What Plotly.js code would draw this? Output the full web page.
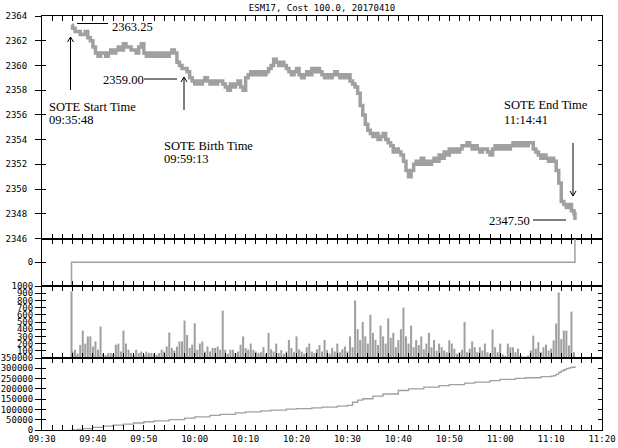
<!DOCTYPE html>
<html><head><meta charset="utf-8">
<script src="https://cdn.plot.ly/plotly-3.0.1.min.js"></script>
<style>html,body{margin:0;padding:0;background:#fff}#chart{width:618px;height:448px}</style>
</head><body><div id="chart"></div>
<script>
const DAY = '2017-04-10 ';
const chartTitle = 'ESM17, Cost 100.0, 20170410';
const soteStart = '09:35:48', soteBirth = '09:59:13', soteEnd = '11:14:41';
const startPrice = '2363.25', birthPrice = '2359.00', endPrice = '2347.50';

// price samples: SOTE start, then a 30-second grid 09:36:00 .. 11:14:30, then SOTE end
const price = [2363.25,
2363.00,2362.75, 2362.75,2362.50, 2362.50,2362.75, 2362.25,2362.00,
2361.50,2361.00, 2360.75,2361.00, 2361.00,2360.75, 2361.00,2361.25, 2361.00,2361.25,
2361.50,2361.25, 2361.75,2361.50, 2361.50,2361.25, 2361.25,2361.00, 2361.50,2361.75,
2361.00,2360.75, 2361.00,2360.75, 2361.00,2360.75, 2361.00,2360.75, 2361.00,2360.75,
2361.00,2361.25, 2361.00,2360.25, 2360.00,2359.75, 2359.75,2359.50, 2359.00,2358.75,
2358.50,2358.75, 2358.50,2358.75, 2359.00,2358.75, 2358.50,2358.75, 2358.50,2358.75,
2358.75,2358.50, 2358.25,2358.00, 2358.50,2358.25, 2358.50,2358.75, 2358.25,2358.00,
2359.00,2359.25, 2359.50,2359.25, 2359.50,2359.25, 2359.50,2359.25, 2359.50,2359.75,
2360.00,2360.50, 2360.25,2360.00, 2360.25,2360.00, 2359.75,2359.50, 2359.25,2359.50,
2359.75,2359.25, 2359.00,2359.25, 2359.50,2359.25, 2359.75,2359.50, 2359.75,2359.50,
2359.25,2359.00, 2359.25,2359.00, 2359.25,2359.50, 2359.25,2359.00, 2359.25,2359.00,
2359.25,2358.75, 2358.50,2358.25, 2357.75,2356.75, 2356.00,2355.25, 2354.75,2354.50,
2354.25,2354.50, 2354.00,2354.25, 2354.50,2354.00, 2353.75,2353.50, 2353.00,2353.25,
2353.00,2352.75, 2352.25,2351.50, 2351.00,2351.50, 2352.00,2352.25, 2352.00,2352.50,
2352.00,2352.25, 2352.00,2352.25, 2352.50,2352.25, 2352.75,2352.50, 2353.00,2352.75,
2353.25,2353.00, 2353.25,2353.00, 2353.25,2353.50, 2353.50,2353.75, 2353.50,2353.25,
2353.50,2353.25, 2353.00,2353.25, 2353.25,2353.00, 2352.75,2353.25, 2353.50,2353.25,
2353.50,2353.25, 2353.50,2353.25, 2353.50,2353.75, 2353.50,2353.75, 2353.50,2353.75,
2353.50,2353.75, 2353.75,2353.25, 2353.00,2352.75, 2352.50,2352.75, 2352.50,2352.25,
2352.50,2352.25, 2351.50,2350.50, 2349.00,2348.75, 2348.50,2348.75, 2348.25,2348.00,
2347.50];

// volume bars: SOTE start, then 30-second grid 09:36:00 .. 11:14:30
const volume = [924,
90,115,60,180,380,200,300,300,160,230,
115,437,60,40,70,70,60,185,200,90,
380,200,115,70,45,115,70,90,45,90,
70,70,60,45,70,115,90,160,354,140,
105,160,230,230,520,320,140,185,483,115,
200,230,90,160,90,140,140,160,115,657,
115,60,115,115,70,90,185,300,140,115,
200,115,90,70,
80,150,60,350,120,90,200,70,110,60,90,250,140,80,300,120,90,
60,150,200,90,70,120,180,90,250,110,60,140,90,200,80,120,160,90,300,150,
800,400,250,500,300,200,600,350,250,180,450,300,200,550,280,350,150,250,400,700,
300,200,450,150,250,180,300,120,200,350,150,250,100,200,
150,105,80,245,200,130,60,80,115,500,
80,130,230,150,80,150,105,200,80,60,
395,150,80,200,50,30,200,150,150,80,
130,35,20,20,35,105,310,130,220,80,
150,185,105,130,245,480,910,265,380,380,
175,645,80];

const cumTime = ['09:35:48','09:37:00','09:38:00','09:40:00','09:42:00','09:44:00','09:46:00','09:48:00','09:50:00','09:52:00','09:55:00','09:58:00',
 '10:00:00','10:03:00','10:05:00','10:08:00','10:10:00','10:13:00','10:15:00','10:18:00','10:20:00','10:23:00','10:25:00','10:28:00','10:30:00',
 '10:31:00','10:32:00','10:33:00','10:35:00','10:37:00','10:40:00','10:42:00','10:45:00','10:48:00','10:50:00','10:53:00','10:55:00','10:58:00',
 '11:00:00','11:03:00','11:05:00','11:08:00','11:10:00','11:10:30','11:11:00','11:11:30','11:12:00','11:12:30','11:13:00','11:13:30','11:14:00','11:14:41'];
const cumVolume = [0,3000,7000,13000,19000,24000,29000,34000,40000,44000,50000,58000,
 64000,71000,76000,83000,88000,93000,97000,101000,104000,108000,111000,116000,120000,
 135000,145000,152000,165000,175000,192000,200000,208000,216000,221000,228000,233000,240000,
 246000,251000,254000,259000,262000,264000,270000,280000,287000,293000,298000,302000,305000,310000];

const posTime = [soteStart, soteStart, soteEnd, soteEnd];
const posState = [-1, 0, 0, 1];

const xTickFirst = '09:30:00', xTickLast = '11:20:00';
const priceTicks = [2346,2348,2350,2352,2354,2356,2358,2360,2362,2364];
const volTicks = [100,200,300,400,500,600,700,800,900,1000];
const cumTicks = [0,50000,100000,150000,200000,250000,300000,350000];

// ---- the 30-second sample grid ----
function gridTimes() {
  const out = [soteStart];
  let t = 9*3600 + 36*60;
  const end = 11*3600 + 14*60 + 30;
  const pad = n => String(n).padStart(2,'0');
  for (; t <= end; t += 30) out.push(pad(Math.floor(t/3600))+':'+pad(Math.floor(t/60)%60)+':'+pad(t%60));
  return out;
}
const grid = gridTimes();
const priceTime = grid.concat([soteEnd]);
const volTime = grid;
const D = a => a.map(s => DAY + s);

// ---- layout geometry (pixels) ----
const W=618, H=448, PL=42, PR=602, PT=16, PB=430;
const px = x => (x-PL)/(PR-PL);
const py = y => (PB-y)/(PB-PT);
const GRAY = '#a0a0a0';
const MONO = {family:'DejaVu Sans Mono', size:9, color:'#000'};
const SERIF = {family:'Liberation Serif', size:12.5, color:'#000'};

const xBase = {
  type:'date', range:[DAY+xTickFirst, DAY+xTickLast], showline:true, linecolor:'#000', linewidth:1,
  mirror:'allticks', ticks:'inside', ticklen:5, tickcolor:'#000', tickwidth:1,
  tick0:DAY+xTickFirst, dtick:600000, tickformat:'%H:%M', tickfont:MONO,
  minor:{dtick:120000, ticks:'inside', ticklen:3, tickcolor:'#000', tickwidth:1, showgrid:false},
  showgrid:false, zeroline:false, fixedrange:true
};
function xa(anchor, labels, extra) { return Object.assign({}, xBase, {anchor:anchor, showticklabels:labels}, extra||{}); }
function ya(dom, range, tickvals, standoff) {
  return {domain:dom, range:range, tickmode:'array', tickvals:tickvals, ticktext:tickvals.map(String),
    showline:true, linecolor:'#000', linewidth:1, mirror:true, ticks:'outside', ticklen:6, tickcolor:'#000',
    tickfont:MONO, ticklabelstandoff:standoff, showgrid:false, zeroline:false, fixedrange:true};
}
function yIn(over, anchor, range, tickvals) {
  return {overlaying:over, anchor:anchor, side:'left', range:range, tickmode:'array', tickvals:tickvals,
    showticklabels:false, showline:true, linecolor:'#000', linewidth:1, mirror:'ticks', ticks:'inside', ticklen:4,
    tickcolor:'#000', showgrid:false, zeroline:false, fixedrange:true};
}

const d1=[py(238.5),1], d2=[py(286),py(238.5)], d3=[py(358),py(286)], d4=[0,py(358)];

const traces = [
  {type:'scatter', mode:'lines', x:D(priceTime), y:price, xaxis:'x', yaxis:'y',
   line:{color:GRAY, width:3.5, shape:'hv'}, hoverinfo:'skip'},
  {type:'scatter', mode:'lines', x:D(posTime), y:posState, xaxis:'x2', yaxis:'y2',
   line:{color:GRAY, width:1.5}, hoverinfo:'skip'},
  {type:'bar', x:D(volTime), y:volume, xaxis:'x3', yaxis:'y3', width:24000,
   marker:{color:GRAY, line:{width:0}}, hoverinfo:'skip'},
  {type:'scatter', mode:'lines', x:D(cumTime), y:cumVolume, xaxis:'x4', yaxis:'y4',
   line:{color:GRAY, width:1.3, shape:'hv'}, hoverinfo:'skip'},
  {type:'scatter', x:[], y:[], xaxis:'x', yaxis:'y5', hoverinfo:'skip'},
  {type:'scatter', x:[], y:[], xaxis:'x2', yaxis:'y6', hoverinfo:'skip'},
  {type:'scatter', x:[], y:[], xaxis:'x3', yaxis:'y7', hoverinfo:'skip'},
  {type:'scatter', x:[], y:[], xaxis:'x4', yaxis:'y8', hoverinfo:'skip'}
];

function text(s, x, y) {
  return {text:s, xref:'paper', yref:'paper', x:px(x), y:py(y), xanchor:'left', yanchor:'middle',
    showarrow:false, font:SERIF, borderpad:0};
}
function pathPx(pts) { return pts.map(p=>(p[0]==='M'?'M':'L')+' '+px(p[1])+','+py(p[2])).join(' '); }
function lineShape(x0,y0,x1,y1){ return {type:'line', xref:'paper', yref:'paper', x0:px(x0), y0:py(y0), x1:px(x1), y1:py(y1), line:{color:'#000', width:1}}; }
function arrowShape(x, tail, head) {
  const s = head < tail ? 1 : -1;
  return {type:'path', xref:'paper', yref:'paper', line:{color:'#000', width:1},
    path: pathPx([['M',x,tail],['L',x,head]]) + ' ' + pathPx([['M',x-3,head+5*s],['L',x,head],['L',x+3,head+5*s]])};
}

const layout = {
  width:W, height:H, margin:{l:PL, r:W-PR, t:PT, b:H-PB, pad:0},
  paper_bgcolor:'#fff', plot_bgcolor:'#fff', showlegend:false,
  title:{text:chartTitle, font:MONO, x:0.5, xref:'paper', xanchor:'center', y:1-8/H, yref:'container', yanchor:'middle'},
  xaxis:xa('y', false), xaxis2:xa('y2', false, {matches:'x'}), xaxis3:xa('y3', false, {matches:'x'}), xaxis4:xa('y4', true, {matches:'x'}),
  yaxis:ya(d1, [2346,2364], priceTicks, 6),
  yaxis2:ya(d2, [-1,1], [0], 0),
  yaxis3:ya(d3, [0,1000], volTicks, 0),
  yaxis4:ya(d4, [0,350000], cumTicks, 0),
  yaxis5:yIn('y','x',[2346,2364], priceTicks),
  yaxis6:yIn('y2','x2',[-1,1],[0]),
  yaxis7:yIn('y3','x3',[0,1000], volTicks),
  yaxis8:yIn('y4','x4',[0,350000], cumTicks),
  annotations:[
    text(startPrice, 111, 26.5),
    text(birthPrice, 102, 79.5),
    text(endPrice, 487.5, 220.5),
    text('SOTE Start Time', 47.5, 107.5),
    text(soteStart, 47.5, 119.5),
    text('SOTE Birth Time', 162.5, 146),
    text(soteBirth, 162.5, 158.5),
    text('SOTE End Time', 502.5, 105.5),
    text(soteEnd, 502.5, 119.5)
  ],
  shapes:[
    lineShape(77, 23.5, 108, 23.5),
    lineShape(144, 79, 177, 79),
    lineShape(533, 220, 566, 220),
    arrowShape(70.5, 90, 37),
    arrowShape(184, 110, 77),
    arrowShape(573, 143, 196)
  ]
};

Plotly.newPlot('chart', traces, layout, {staticPlot:true, displayModeBar:false});
</script></body></html>
